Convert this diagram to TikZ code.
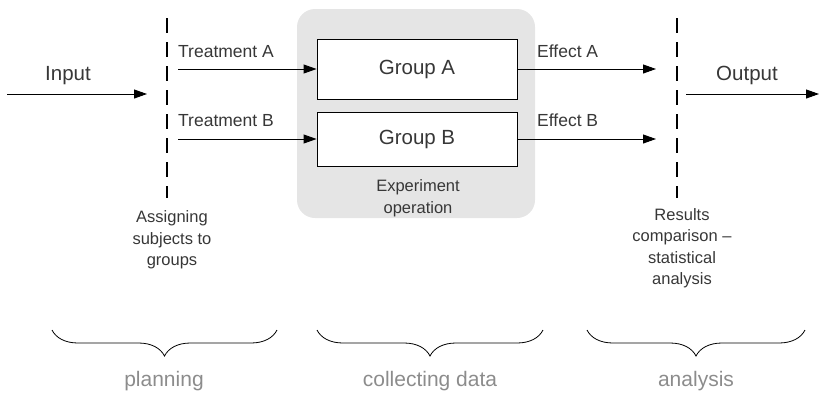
\documentclass[tikz,border=0pt]{standalone}
\usepackage{fontspec}
\setmainfont{Liberation Sans}
\usetikzlibrary{calc, positioning, arrows.meta, decorations.pathreplacing}
\definecolor{panelgray}{RGB}{229,229,229}
\definecolor{labelgray}{RGB}{55,55,55}
\definecolor{phasegray}{RGB}{140,140,140}

\begin{document}
\begin{tikzpicture}[x=1pt, y=-1pt]
    \tikzstyle{group} = [rectangle, draw, fill=white, minimum width=200pt, text centered, text=labelgray, line width=0.9pt, font=\fontsize{20.5}{24}\selectfont]
    \tikzstyle{panel} = [rectangle, fill=panelgray, rounded corners=18pt, minimum width=238pt, minimum height=209pt]
    \tikzstyle{big_label} = [anchor=base, text=labelgray, font=\fontsize{20.5}{24}\selectfont]
    \tikzstyle{small_label} = [anchor=base west, inner sep=0pt, text=labelgray, font=\fontsize{17.5}{21}\selectfont]
    \tikzstyle{note} = [align=center, text=labelgray, font=\fontsize{16.5}{21.5}\selectfont]
    \tikzstyle{phase} = [text=phasegray, font=\fontsize{21}{24}\selectfont]
    \tikzstyle{line} = [draw, line width=0.9pt, -{Triangle[length=13pt, width=9pt]}]
    \tikzstyle{split_line} = [draw, line width=1.6pt, dash pattern=on 15pt off 9pt]
    \tikzstyle{phase_brace} = [draw, line width=0.8pt, decorate, decoration={brace, mirror, amplitude=26pt}]

    \useasboundingbox (0,0) rectangle (820,394);

    % experiment box
    \node [panel] (operation) at (416,113.5) {};
    \node [group, minimum height=60pt] (groupA) at (417,69) {Group A};
    \node [group, minimum height=54pt] (groupB) at (417,139) {Group B};
    \node [note] (operation_text) at (418,198) {Experiment\\operation};

    % split lines
    \coordinate (assign_top) at (167,18);
    \coordinate (assign_bot) at (167,198);
    \coordinate (results_top) at (677,18);
    \coordinate (results_bot) at (677,198);
    \path [split_line] (assign_top) -- (assign_bot);
    \path [split_line] (results_top) -- (results_bot);

    % input / output
    \coordinate (input_start) at (7,94);
    \coordinate (input_end) at (147,94);
    \coordinate (output_start) at (686,94);
    \coordinate (output_end) at (819,94);
    \node [big_label] (input) at (68,80) {Input};
    \node [big_label] (output) at (747,80) {Output};
    \path [line] (input_start) -- (input_end);
    \path [line] (output_start) -- (output_end);

    % treatments and effects
    \coordinate (treatA) at (178,69);
    \coordinate (treatB) at (178,139);
    \coordinate (effectA_end) at (656,69);
    \coordinate (effectB_end) at (656,139);
    \node [small_label] (treatA_text) at (178,57) {Treatment A};
    \node [small_label] (treatB_text) at (178,126) {Treatment B};
    \node [small_label] (effectA_text) at (537,57) {Effect A};
    \node [small_label] (effectB_text) at (537,126) {Effect B};
    \path [line] (treatA) -- (groupA.west);
    \path [line] (treatB) -- (groupB.west);
    \path [line] (groupA.east) -- (effectA_end);
    \path [line] (groupB.east) -- (effectB_end);

    % notes below the split lines
    \node [note] (assign_text) at (172,240) {Assigning\\subjects to\\groups};
    \node [note] (results_text) at (682,248) {Results\\comparison --\\statistical\\analysis};

    % phases
    \coordinate (plan_l) at (52,330);
    \coordinate (plan_r) at (277,330);
    \coordinate (collect_l) at (317,330);
    \coordinate (collect_r) at (543,330);
    \coordinate (analysis_l) at (587,330);
    \coordinate (analysis_r) at (805,330);
    \path [phase_brace] (plan_l) -- (plan_r);
    \path [phase_brace] (collect_l) -- (collect_r);
    \path [phase_brace] (analysis_l) -- (analysis_r);
    \node [phase] (planning) at (164,381) {planning};
    \node [phase] (collecting) at (430,381) {collecting data};
    \node [phase] (analysis) at (696,381) {analysis};
\end{tikzpicture}
\end{document}
